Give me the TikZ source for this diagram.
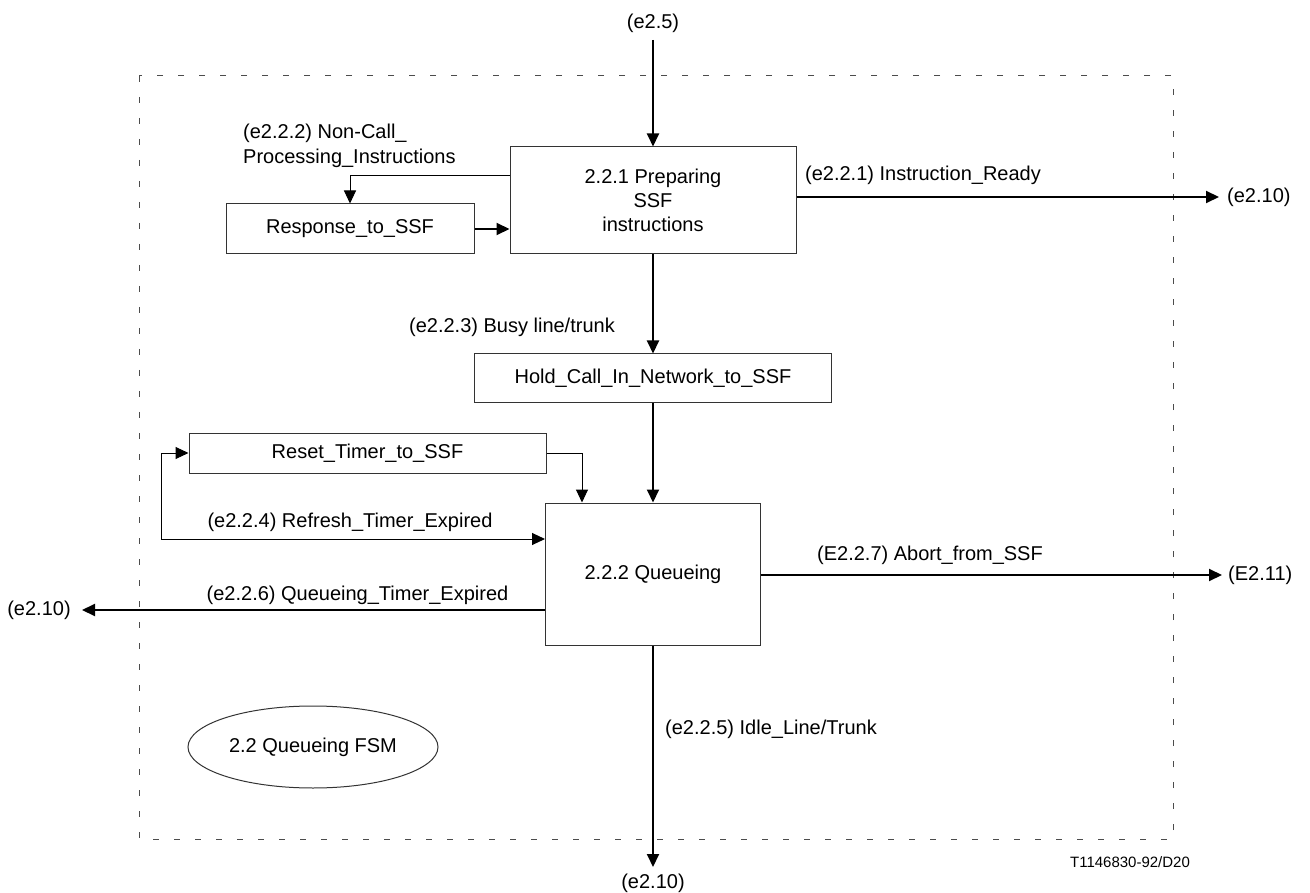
\documentclass[tikz,border=0pt]{standalone}
\usepackage{fontspec}
\setmainfont{Liberation Sans}
\usetikzlibrary{arrows.meta,shapes.geometric}
\begin{document}
\begin{tikzpicture}[x=1pt,y=-1pt,
  every node/.style={font=\fontsize{20}{24}\selectfont, inner sep=0pt},
  blk/.style={draw=black!80, line width=1pt, fill=white, align=center},
  tip/.style={-{Triangle[length=13pt,width=12pt]}},
  flow/.style={line width=2pt, tip},
  aux/.style={line width=1pt, tip},
  frame/.style={draw=black!70, line width=1pt, dash pattern=on 6pt off 15pt},
]
\useasboundingbox[fill=white] (0,0) rectangle (1310,893);

% boundary of the FSM
\draw[frame] (139,76) rectangle (1173,839);

% states and actions
\node[blk, minimum width=286pt, minimum height=107pt] (prep) at (653,200.5) {2.2.1 Preparing\\SSF\\instructions};
\node[blk, minimum width=248pt, minimum height=50pt] (resp) at (350,229) {Response\_to\_SSF};
\node[blk, minimum width=357pt, minimum height=49pt] (hold) at (653,378.5) {Hold\_Call\_In\_Network\_to\_SSF};
\node[blk, minimum width=357pt, minimum height=40pt] (reset) at (367.5,453) {Reset\_Timer\_to\_SSF};
\node[blk, minimum width=215pt, minimum height=142pt] (queue) at (653,574) {2.2.2 Queueing};
\node[draw=black!80, line width=1pt, ellipse, minimum width=250pt, minimum height=82pt] (fsm) at (313,747) {2.2 Queueing FSM};

% external events
\node (in25) at (653,23) {(e2.5)};
\coordinate (in25end) at (653,40);
\node[anchor=west] (out1) at (1227,197) {(e2.10)};
\coordinate (out1tip) at (1219,197);
\node (out2) at (39,610) {(e2.10)};
\coordinate (out2tip) at (82,610);
\node[anchor=west] (out3) at (1228,575) {(E2.11)};
\coordinate (out3tip) at (1222,575);
\node (out4) at (653,883) {(e2.10)};
\coordinate (out4tip) at (653,867);
\coordinate (loop) at (161,539);

% transitions
\draw[flow] (in25end) -- (prep.north);
\draw[flow] (prep.east |- out1tip) -- (out1tip);
\draw[aux] (prep.west |- 0,176) -| (resp.north);
\draw[flow] (resp.east) -- (resp.east -| prep.west);
\draw[flow] (prep.south) -- (hold.north);
\draw[flow] (hold.south) -- (queue.north);
\draw[aux] (reset.east) -| (queue.north -| 582,0);
\draw[line width=1pt, {Triangle[length=13pt,width=12pt]}-{Triangle[length=13pt,width=12pt]}]
  (reset.west) -| (loop) -- (loop -| queue.west);
\draw[flow] (queue.west |- out2tip) -- (out2tip);
\draw[flow] (queue.east |- out3tip) -- (out3tip);
\draw[flow] (queue.south) -- (out4tip);

% transition labels
\node[align=left, anchor=west, font=\fontsize{20}{25}\selectfont] (l222) at (243,145.5) {(e2.2.2) Non-Call\_\\Processing\_Instructions};
\node (l221) at (923,175) {(e2.2.1) Instruction\_Ready};
\node[anchor=east] (l223) at (615,327) {(e2.2.3) Busy line/trunk};
\node (l224) at (350,522) {(e2.2.4) Refresh\_Timer\_Expired};
\node (l226) at (357.5,595) {(e2.2.6) Queueing\_Timer\_Expired};
\node (l227) at (930,555) {(E2.2.7) Abort\_from\_SSF};
\node (l225) at (771,729) {(e2.2.5) Idle\_Line/Trunk};
\node[font=\fontsize{15}{18}\selectfont] (ref) at (1130,862) {T1146830-92/D20};
\end{tikzpicture}
\end{document}
